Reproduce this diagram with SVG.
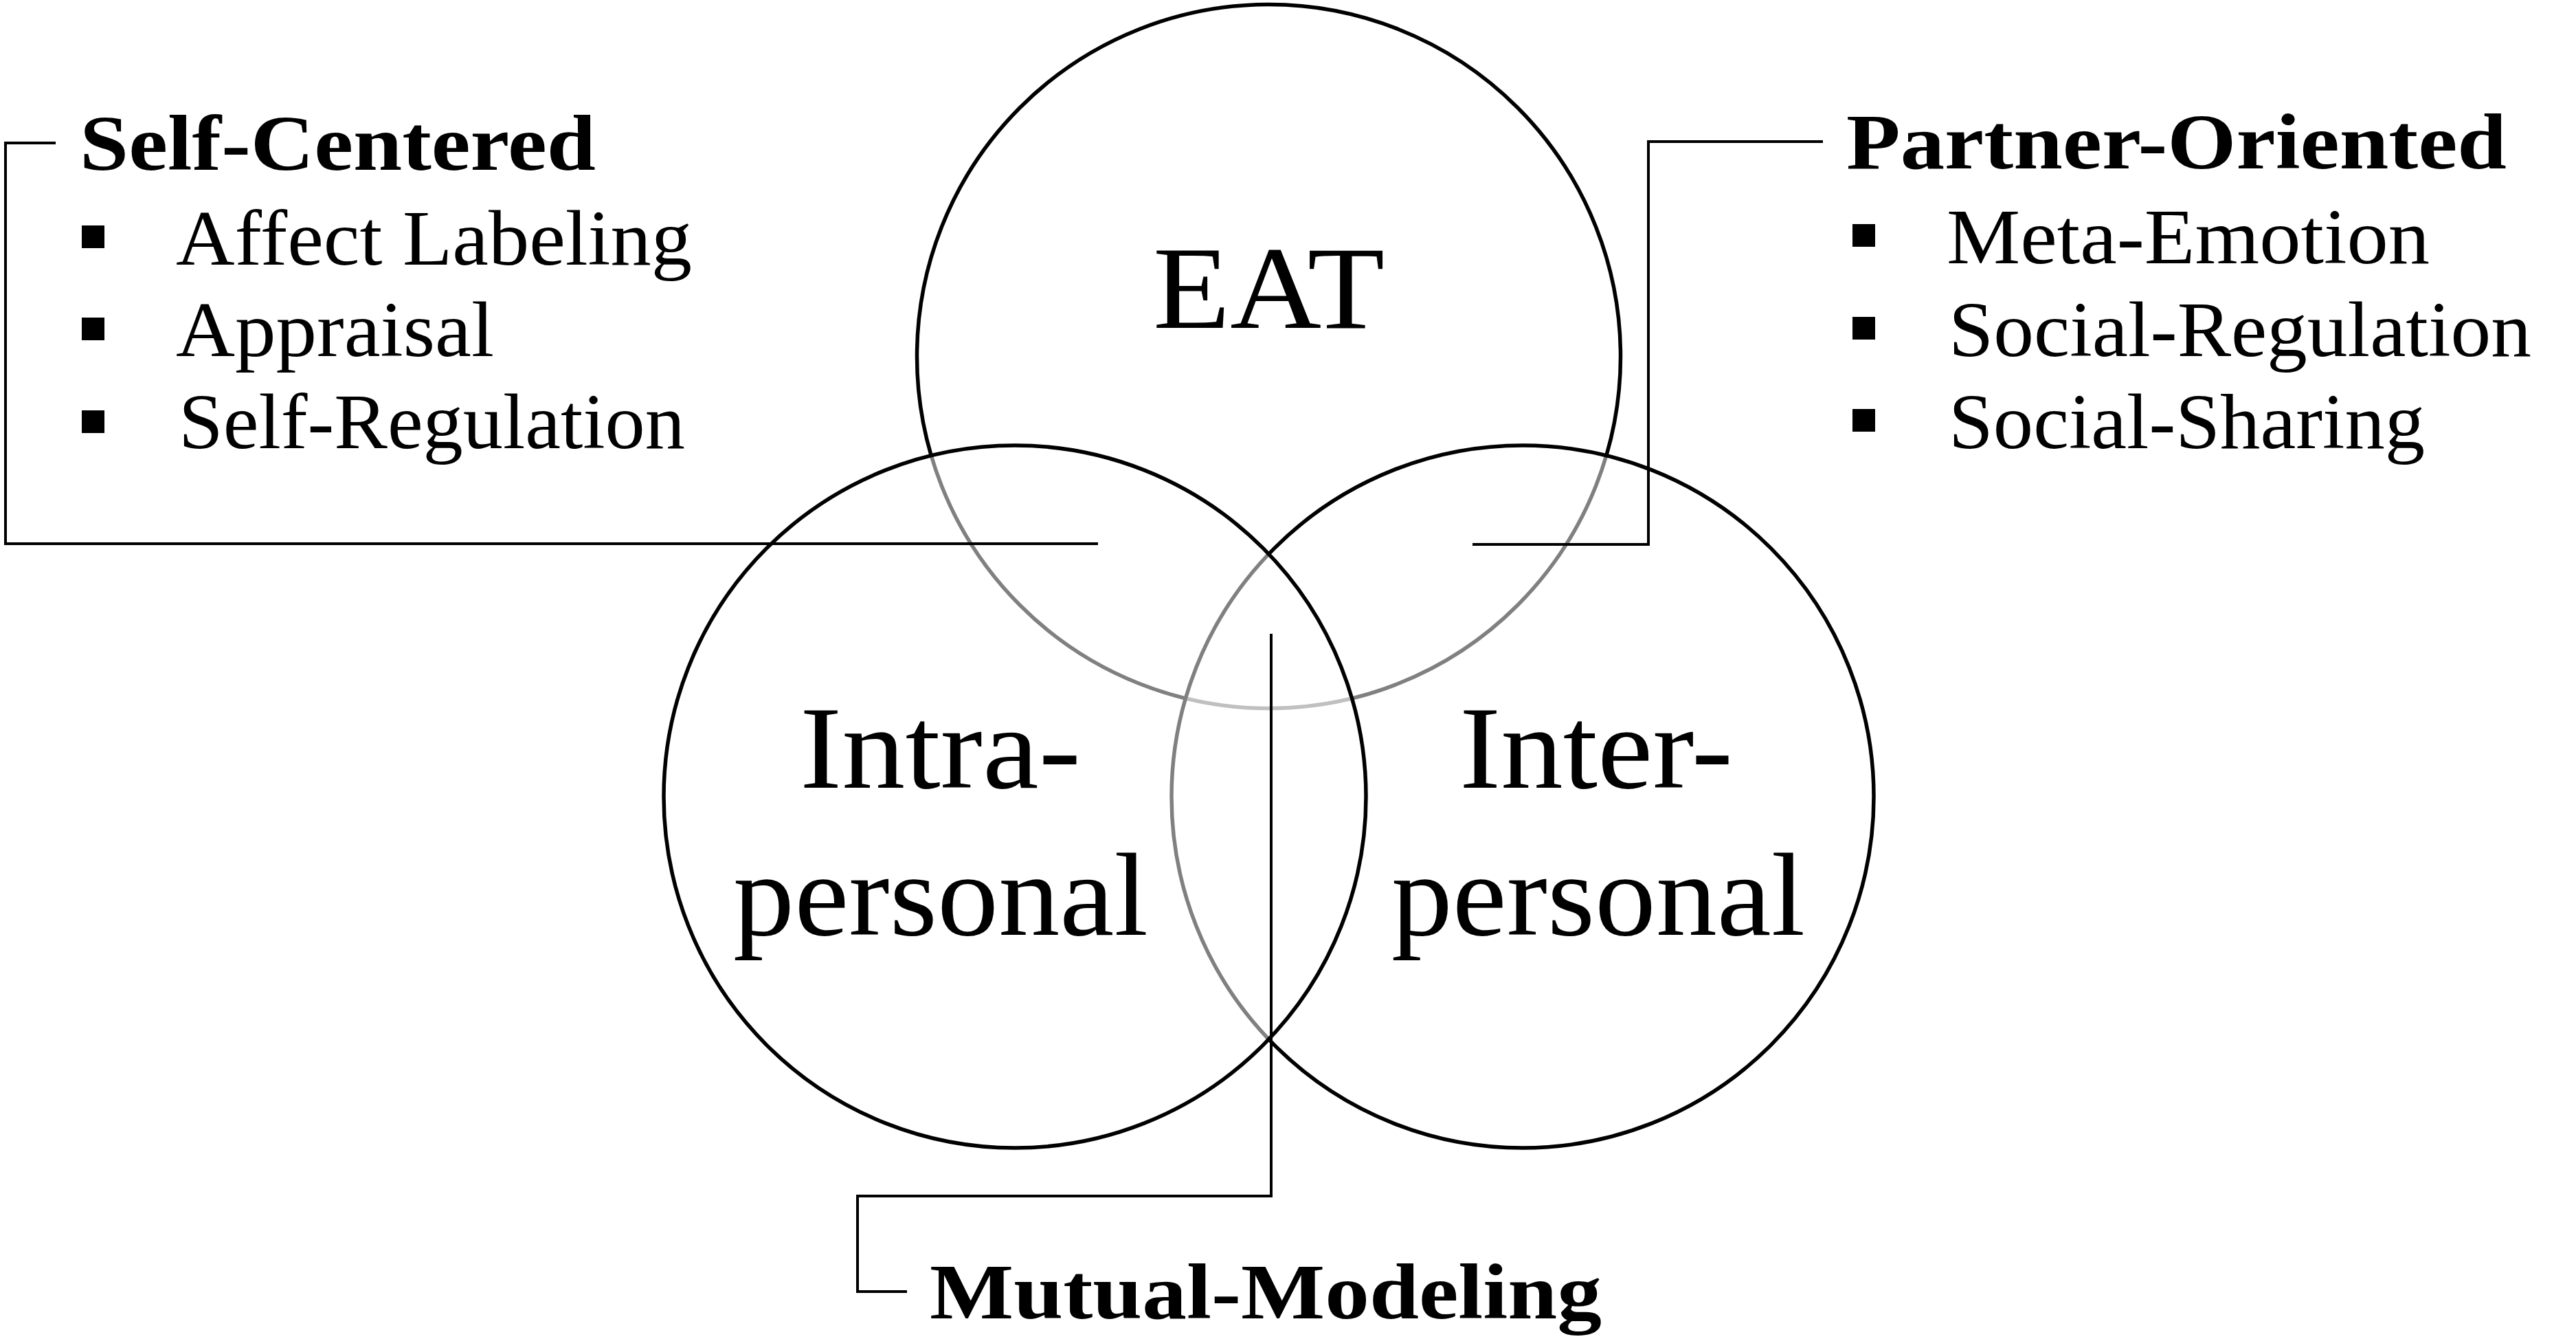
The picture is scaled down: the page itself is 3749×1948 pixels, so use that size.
<svg xmlns="http://www.w3.org/2000/svg" width="3749" height="1948" viewBox="0 0 3749 1948">
<style>
.c{fill:#fff;fill-opacity:0.5;stroke:#000;stroke-width:5.5}
.t{font-family:"Liberation Serif","DejaVu Serif",serif;fill:#000}
.big{font-size:172px}
.h{font-size:115px;font-weight:bold}
.i{font-size:115px}
.k{fill:none;stroke:#000;stroke-width:4}
.b{fill:#000}
</style>
<rect width="3749" height="1948" fill="#fff"/>
<g id="eat">
<circle class="c" cx="1846.5" cy="518.5" r="512"/>
<text class="t big" x="1678" y="477" textLength="337" lengthAdjust="spacingAndGlyphs">EAT</text>
</g>
<g id="interpersonal">
<circle class="c" cx="2216" cy="1159" r="511"/>
<text class="t big" x="2124" y="1146" textLength="398" lengthAdjust="spacingAndGlyphs">Inter-</text>
<text class="t big" x="2025" y="1360" textLength="602" lengthAdjust="spacingAndGlyphs">personal</text>
</g>
<g id="intrapersonal">
<circle class="c" cx="1477" cy="1159" r="511"/>
<text class="t big" x="1164" y="1146" textLength="409" lengthAdjust="spacingAndGlyphs">Intra-</text>
<text class="t big" x="1067" y="1360" textLength="604" lengthAdjust="spacingAndGlyphs">personal</text>
</g>
<g id="connectors">
<polyline class="k" points="81,208 8,208 8,791 1598,791"/>
<polyline class="k" points="2653,206 2399,206 2399,792 2143,792"/>
<polyline class="k" points="1850,922 1850,1740 1248,1740 1248,1879 1320,1879"/>
</g>
<g id="self-centered">
<text class="t h" x="116" y="247" textLength="751" lengthAdjust="spacingAndGlyphs">Self-Centered</text>
<rect class="b" x="119" y="328" width="33" height="33"/>
<rect class="b" x="119" y="462" width="33" height="33"/>
<rect class="b" x="119" y="597" width="33" height="33"/>
<text class="t i" x="256" y="385" textLength="751" lengthAdjust="spacingAndGlyphs">Affect Labeling</text>
<text class="t i" x="256" y="518" textLength="463" lengthAdjust="spacingAndGlyphs">Appraisal</text>
<text class="t i" x="260" y="652" textLength="737" lengthAdjust="spacingAndGlyphs">Self-Regulation</text>
</g>
<g id="partner-oriented">
<text class="t h" x="2687" y="245" textLength="961" lengthAdjust="spacingAndGlyphs">Partner-Oriented</text>
<rect class="b" x="2696" y="326" width="33" height="33"/>
<rect class="b" x="2696" y="461" width="33" height="33"/>
<rect class="b" x="2696" y="595" width="33" height="33"/>
<text class="t i" x="2833" y="383" textLength="703" lengthAdjust="spacingAndGlyphs">Meta-Emotion</text>
<text class="t i" x="2836" y="518" textLength="848" lengthAdjust="spacingAndGlyphs">Social-Regulation</text>
<text class="t i" x="2836" y="652" textLength="693" lengthAdjust="spacingAndGlyphs">Social-Sharing</text>
</g>
<g id="mutual-modeling">
<text class="t h" x="1353" y="1918" textLength="978" lengthAdjust="spacingAndGlyphs">Mutual-Modeling</text>
</g>
</svg>
